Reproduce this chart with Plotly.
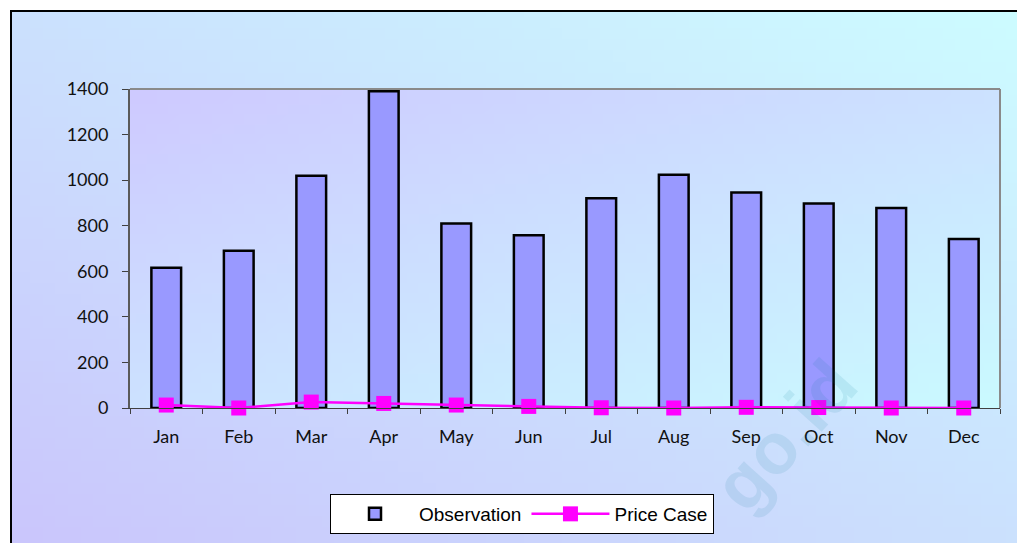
import base64
import struct
import zlib

import plotly.graph_objects as go

MONTHS = ["Jan", "Feb", "Mar", "Apr", "May", "Jun", "Jul", "Aug", "Sep", "Oct", "Nov", "Dec"]
OBSERVATION = [616, 690, 1019, 1390, 810, 758, 920, 1024, 946, 898, 878, 742]
PRICE_CASE = [13, 0, 26, 20, 13, 7, 1, 0, 3, 2, 0, 0]

# the page body keeps its default 8px margin, so the figure is drawn 8px smaller
OFF = 8
W, H = 1025 - OFF, 543 - OFF
L, R, T, B = 130 - OFF, 25, 89 - OFF, 135
PW, PH = W - L - R, H - T - B


def px_x(x):
    """Screen pixel x (in the reference) -> paper coordinate."""
    return (x - OFF - L) / PW


def px_y(y):
    return (H - B - (y - OFF)) / PH


def gradient_png(w, h, c0, c1, from_bottom_left):
    """Small diagonal gradient PNG as a data uri (stretched by the browser)."""
    rows = []
    for j in range(h):
        row = bytearray([0])
        for i in range(w):
            if from_bottom_left:
                t = (i / (w - 1) + (1 - j / (h - 1))) / 2
            else:
                t = (i / (w - 1) + j / (h - 1)) / 2
            row += bytes(round(a + (b - a) * t) for a, b in zip(c0, c1))
        rows.append(bytes(row))

    def chunk(tag, data):
        return (struct.pack(">I", len(data)) + tag + data
                + struct.pack(">I", zlib.crc32(tag + data) & 0xFFFFFFFF))

    png = (b"\x89PNG\r\n\x1a\n"
           + chunk(b"IHDR", struct.pack(">IIBBBBB", w, h, 8, 2, 0, 0, 0))
           + chunk(b"IDAT", zlib.compress(b"".join(rows)))
           + chunk(b"IEND", b""))
    return "data:image/png;base64," + base64.b64encode(png).decode()


outer_bg = gradient_png(80, 48, (202, 198, 252), (204, 252, 255), True)
plot_bg = gradient_png(80, 32, (206, 202, 255), (202, 250, 255), False)

fig = go.Figure()
fig.add_trace(go.Bar(
    x=MONTHS, y=OBSERVATION, name="Observation",
    marker=dict(color="#9999ff", line=dict(color="#000000", width=2.5)),
))
fig.add_trace(go.Scatter(
    x=MONTHS, y=PRICE_CASE, name="Price Case", mode="lines+markers",
    line=dict(color="#ff00ff", width=2.5),
    marker=dict(symbol="square", size=15, color="#ff00ff"),
    cliponaxis=False,
))

tick_font = dict(family="Lato", size=18, color="#111111")

fig.update_layout(
    width=W, height=H,
    margin=dict(l=L, r=R, t=T, b=B),
    paper_bgcolor="#ffffff",
    plot_bgcolor="rgba(0,0,0,0)",
    bargap=0.59,
    showlegend=True,
    legend=dict(
        orientation="h",
        xref="container", yref="container",
        x=(522 - OFF) / W, xanchor="center",
        y=1 - (514 - OFF) / H, yanchor="middle",
        bgcolor="#ffffff", bordercolor="#000000", borderwidth=1,
        font=dict(family="Liberation Sans", size=19, color="#000000"),
        itemwidth=78,
    ),
    xaxis=dict(
        range=[-0.5, len(MONTHS) - 0.5],
        tickfont=tick_font, showline=True, linecolor="#404040", linewidth=1,
        ticks="outside", ticklen=5, tickcolor="#404040", tickson="boundaries",
        showgrid=False, zeroline=False, ticklabelstandoff=12, fixedrange=True,
    ),
    yaxis=dict(
        range=[0, 1400], dtick=200, tickfont=tick_font,
        showline=True, linecolor="#5a5a5a", linewidth=2,
        ticks="outside", ticklen=6, tickcolor="#404040",
        showgrid=False, zeroline=False, ticklabelstandoff=10, fixedrange=True,
    ),
    images=[
        dict(source=outer_bg, xref="paper", yref="paper",
             x=px_x(11), y=px_y(11), sizex=(1025 - 11) / PW, sizey=(543 - 11) / PH,
             xanchor="left", yanchor="top", sizing="stretch", layer="below"),
        dict(source=plot_bg, xref="paper", yref="paper",
             x=0, y=1, sizex=1, sizey=1,
             xanchor="left", yanchor="top", sizing="stretch", layer="below"),
    ],
    shapes=[
        # outer chart frame, cut off on the right and bottom
        dict(type="rect", xref="paper", yref="paper",
             x0=px_x(11), x1=px_x(1045), y0=px_y(563), y1=px_y(11),
             line=dict(color="#000000", width=2), layer="below"),
        # grey plot-area border (top and right)
        dict(type="line", xref="paper", yref="paper", x0=0, x1=1, y0=1, y1=1,
             line=dict(color="#8a8a8a", width=2)),
        dict(type="line", xref="paper", yref="paper", x0=1, x1=1, y0=0, y1=1,
             line=dict(color="#8a8a8a", width=2)),
    ],
    annotations=[
        # faint diagonal watermark
        dict(text="<b>go.id</b>", xref="paper", yref="paper",
             x=px_x(785), y=px_y(435), xanchor="center", yanchor="middle",
             showarrow=False, textangle=-48,
             font=dict(family="Liberation Sans", size=72, color="rgba(0,120,150,0.10)")),
    ],
)

fig.write_html("out.html")
